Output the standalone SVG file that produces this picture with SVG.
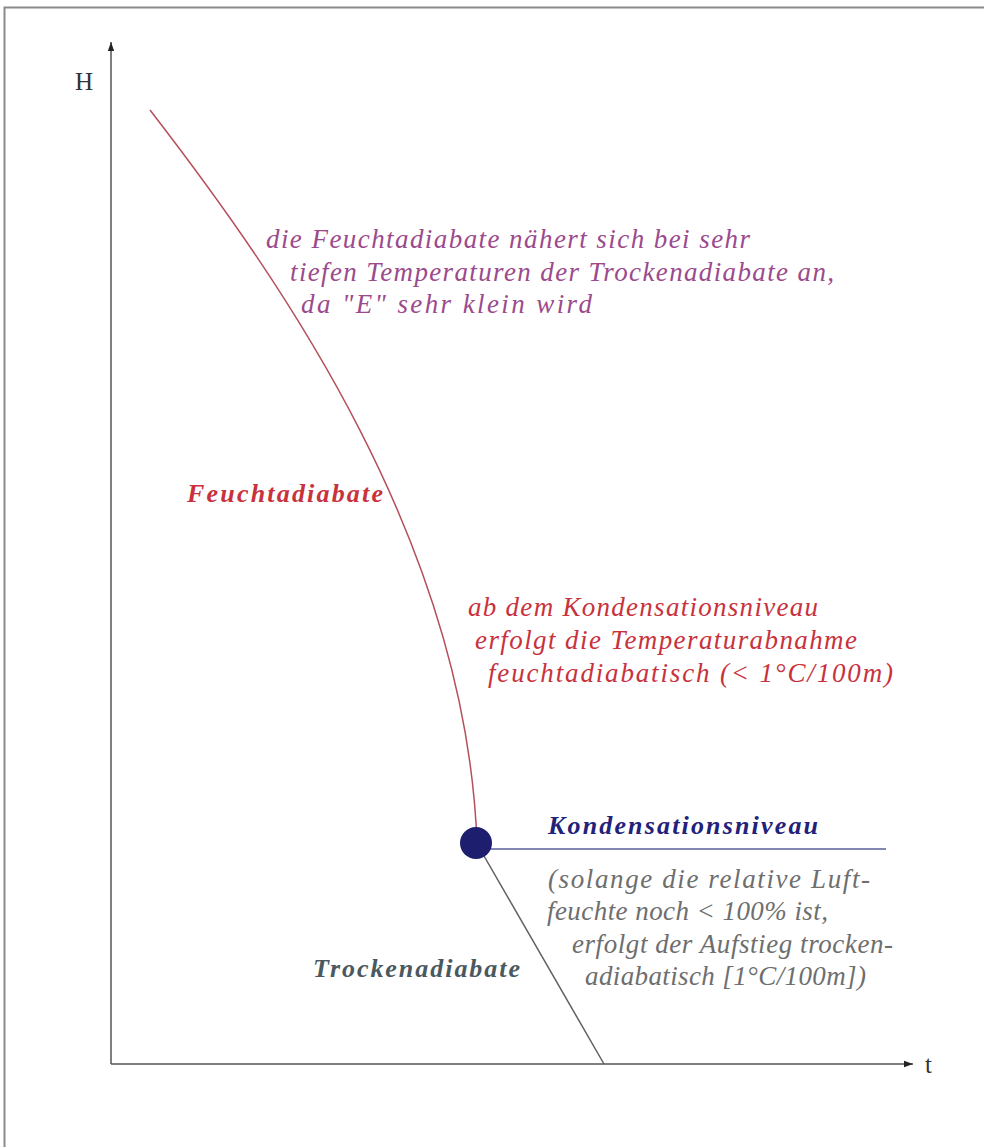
<svg xmlns="http://www.w3.org/2000/svg" width="984" height="1147" viewBox="0 0 984 1147">
<defs>
<style>
.t{font-family:"Liberation Serif","Times New Roman",serif;font-style:italic;font-size:27px}
.b{font-weight:bold;font-size:26px}
.ax{font-family:"Liberation Serif","Times New Roman",serif;font-size:25px;fill:#333}
.pur{fill:#9b4a8c}
.red{fill:#c8323c}
.gry{fill:#6e6e6e}
</style>
<marker id="arr" viewBox="0 0 10 10" refX="10" refY="5" markerWidth="9" markerHeight="9" markerUnits="userSpaceOnUse" orient="auto">
<path d="M0,1.5 L10,5 L0,8.5 z" fill="#222"/>
</marker>
</defs>
<rect x="0" y="0" width="984" height="1147" fill="#fff"/>
<rect x="4.5" y="7.5" width="1000" height="1160" fill="none" stroke="#8a8a8a" stroke-width="2"/>
<g id="connectors">
<line x1="111" y1="1064" x2="111" y2="42" stroke="#555" stroke-width="1.5" marker-end="url(#arr)"/>
<line x1="111" y1="1064" x2="913" y2="1064" stroke="#555" stroke-width="1.5" marker-end="url(#arr)"/>
<path id="feucht" d="M150,110 C285,285 466,545 477,843" fill="none" stroke="#b5505a" stroke-width="1.5"/>
<line id="trocken" x1="480" y1="849" x2="604" y2="1064" stroke="#606060" stroke-width="1.5"/>
<line id="niveau" x1="476" y1="849" x2="886" y2="849" stroke="#8486b4" stroke-width="2"/>
</g>
<g id="axis-labels">
<text class="ax" x="75" y="90">H</text>
<text class="ax" x="925" y="1073">t</text>
</g>
<g id="punkt"><circle cx="476" cy="843" r="16" fill="#1e1e6e"/></g>
<g id="note-top" class="t pur">
<text x="266" y="248" textLength="484" lengthAdjust="spacing">die Feuchtadiabate nähert sich bei sehr</text>
<text x="290" y="281" textLength="544" lengthAdjust="spacing">tiefen Temperaturen der Trockenadiabate an,</text>
<text x="301" y="313" textLength="291" lengthAdjust="spacing">da "E" sehr klein wird</text>
</g>
<g id="label-feucht"><text class="t b red" x="187" y="502" textLength="196" lengthAdjust="spacing">Feuchtadiabate</text></g>
<g id="note-mid" class="t red">
<text x="468" y="616" textLength="350" lengthAdjust="spacing">ab dem Kondensationsniveau</text>
<text x="475" y="649" textLength="382" lengthAdjust="spacing">erfolgt die Temperaturabnahme</text>
<text x="488" y="682" textLength="405" lengthAdjust="spacing">feuchtadiabatisch (&lt; 1°C/100m)</text>
</g>
<g id="label-niveau"><text class="t b" fill="#22227a" x="548" y="834" textLength="270" lengthAdjust="spacing">Kondensationsniveau</text></g>
<g id="note-low" class="t gry">
<text x="548" y="888" textLength="322" lengthAdjust="spacing">(solange die relative Luft-</text>
<text x="547" y="920" textLength="281" lengthAdjust="spacing">feuchte noch &lt; 100% ist,</text>
<text x="572" y="953" textLength="321" lengthAdjust="spacing">erfolgt der Aufstieg trocken-</text>
<text x="585" y="985" textLength="281" lengthAdjust="spacing">adiabatisch [1°C/100m])</text>
</g>
<g id="label-trocken"><text class="t b" fill="#4a5960" x="313" y="977" textLength="207" lengthAdjust="spacing">Trockenadiabate</text></g>
</svg>
